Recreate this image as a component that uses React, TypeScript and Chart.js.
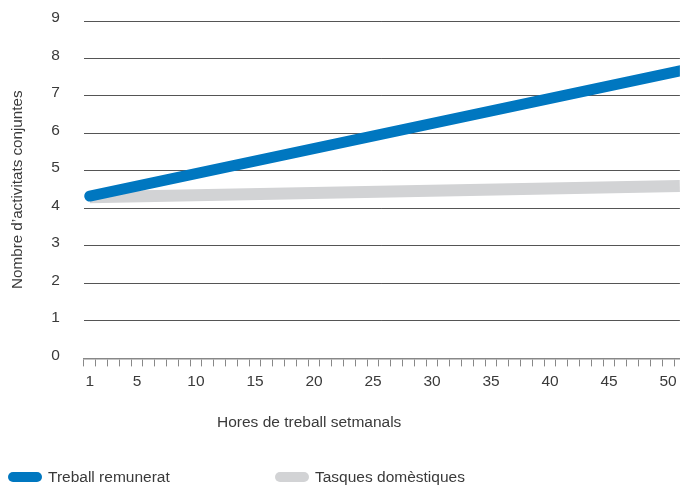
import React, { useEffect, useRef } from 'react';
import { Chart, registerables } from 'chart.js';

Chart.register(...registerables);

// ---- data ----
const hours = [1, 51];
const paidWork = [4.33, 7.67];
const domesticWork = [4.3, 4.6];
const seriesNames = ['Treball remunerat', 'Tasques domèstiques'];
const seriesColors = ['#0077c0', '#d2d3d5'];
const xLabelValues = [1, 5, 10, 15, 20, 25, 30, 35, 40, 45, 50];
const xTickFirst = 1;
const xTickLast = 50;
const yMin = 0;
const yMax = 9;
const xTitle = 'Hores de treball setmanals';
const yTitle = 'Nombre d’activitats conjuntes';

const FONT = '"Liberation Sans", Arial, sans-serif';
const TEXT = '#3a3a3a';
const FS = 15.5;

export default function App() {
  const ref = useRef<HTMLCanvasElement | null>(null);

  useEffect(() => {
    if (!ref.current) return;
    const markTicks: number[] = [];
    for (let h = xTickFirst; h <= xTickLast; h++) markTicks.push(h - 0.5);
    markTicks.push(xTickLast + 0.5);
    const allTicks = [...markTicks, ...xLabelValues].sort((a, b) => a - b);
    const labelSet = new Set(xLabelValues);

    const chart = new Chart(ref.current, {
      type: 'line',
      data: {
        datasets: [
          {
            label: seriesNames[0],
            data: hours.map((h, i) => ({ x: h, y: paidWork[i] })),
            borderColor: seriesColors[0],
            backgroundColor: seriesColors[0],
            borderWidth: 11,
            borderCapStyle: 'round',
            pointRadius: 0,
            order: 0,
          },
          {
            label: seriesNames[1],
            data: hours.map((h, i) => ({ x: h, y: domesticWork[i] })),
            borderColor: seriesColors[1],
            backgroundColor: seriesColors[1],
            borderWidth: 12,
            borderCapStyle: 'butt',
            pointRadius: 0,
            order: 1,
          },
        ],
      },
      options: {
        responsive: false,
        animation: false,
        layout: { padding: { left: 9, top: 21, right: 0, bottom: 92 } },
        plugins: { legend: { display: false }, tooltip: { enabled: false } },
        scales: {
          x: {
            type: 'linear',
            min: xTickFirst - 0.5,
            max: hours[hours.length - 1],
            afterBuildTicks: (axis: any) => {
              axis.ticks = allTicks.map((v) => ({ value: v }));
            },
            border: { display: true, color: '#888', width: 1.5 },
            grid: {
              drawOnChartArea: false,
              drawTicks: true,
              tickLength: 8,
              tickWidth: 1,
              tickColor: (ctx: any) =>
                ctx.tick && ctx.tick.value % 1 !== 0 ? '#888' : 'rgba(0,0,0,0)',
            },
            ticks: {
              autoSkip: false,
              maxRotation: 0,
              padding: 6,
              color: TEXT,
              font: { family: FONT, size: FS },
              callback: (v: any) => (labelSet.has(Number(v)) ? String(v) : ''),
            },
          },
          y: {
            min: yMin,
            max: yMax,
            border: { display: false },
            grid: {
              drawTicks: true,
              tickLength: 22,
              tickColor: 'rgba(0,0,0,0)',
              color: (ctx: any) => (ctx.tick && ctx.tick.value === 0 ? 'rgba(0,0,0,0)' : '#555'),
              lineWidth: 1,
            },
            ticks: {
              stepSize: 1,
              padding: 2,
              labelOffset: -3,
              color: TEXT,
              font: { family: FONT, size: FS },
            },
            title: {
              display: true,
              text: yTitle,
              color: TEXT,
              font: { family: FONT, size: 15.2 },
              padding: { top: 0, bottom: 22 },
            },
          },
        },
      },
    });
    return () => chart.destroy();
  }, []);

  return (
    <div style={{ position: 'fixed', left: 0, top: 0, width: 680, height: 489, background: '#fff', fontFamily: FONT, color: TEXT }}>
      <canvas ref={ref} width={680} height={489} style={{ display: 'block' }} />
      <div style={{ position: 'absolute', left: 217, top: 413, fontSize: FS, lineHeight: '18px', whiteSpace: 'nowrap' }}>{xTitle}</div>
      {seriesNames.map((name, i) => (
        <div
          key={name}
          style={{ position: 'absolute', left: i === 0 ? 8 : 275, top: 468, display: 'flex', alignItems: 'center', fontSize: FS, lineHeight: '18px', whiteSpace: 'nowrap' }}
        >
          <span style={{ display: 'inline-block', width: 34, height: 10, borderRadius: 5, background: seriesColors[i], marginRight: 6 }} />
          {name}
        </div>
      ))}
    </div>
  );
}
